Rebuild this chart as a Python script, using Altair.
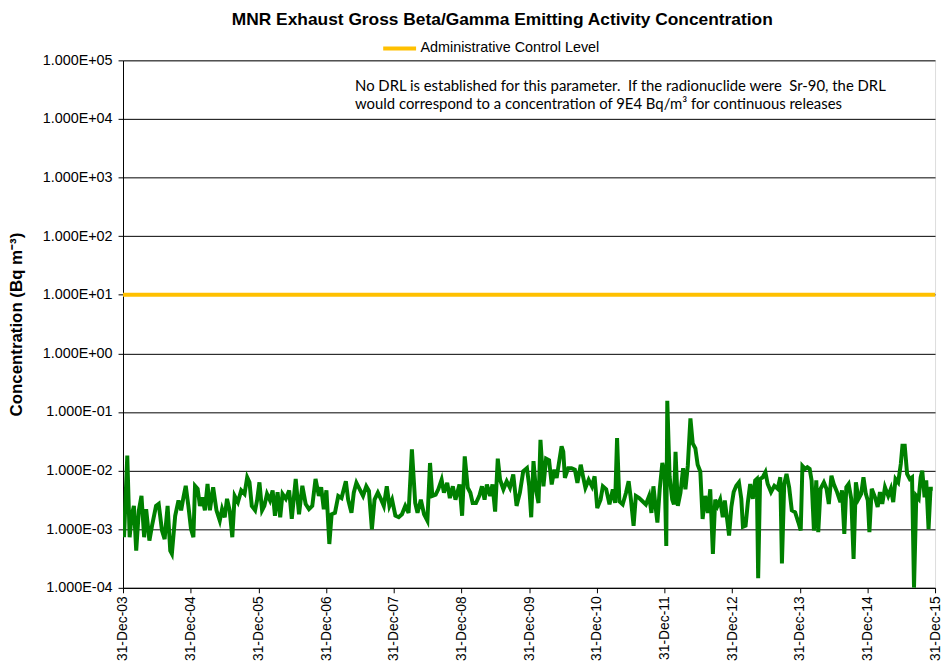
import altair as alt
import pandas as pd

# ---- data (decimal years, 2004.0 = 31-Dec-03) ----
t_2004_2006 = [2004.015, 2004.063, 2004.098, 2004.127, 2004.161, 2004.195, 2004.234, 2004.273,
               2004.312, 2004.342, 2004.390, 2004.429, 2004.488, 2004.527, 2004.576, 2004.615,
               2004.659, 2004.698, 2004.722, 2004.771, 2004.820, 2004.859, 2004.893, 2004.927,
               2004.966, 2005.005, 2005.040, 2005.064, 2005.103, 2005.137, 2005.171, 2005.210,
               2005.249, 2005.284, 2005.332, 2005.381, 2005.430, 2005.464, 2005.503, 2005.537,
               2005.576, 2005.615, 2005.650, 2005.698, 2005.747, 2005.796, 2005.835, 2005.869,
               2005.903, 2005.952, 2005.981, 2006.016, 2006.055, 2006.089, 2006.128, 2006.172,
               2006.211, 2006.245, 2006.284, 2006.323, 2006.357, 2006.406, 2006.455, 2006.494,
               2006.552, 2006.601, 2006.650, 2006.699, 2006.748, 2006.797, 2006.845, 2006.894,
               2006.928, 2006.967, 2007.006]
v_2004_2006 = [7.3e-4, 1.8e-2, 7.3e-4, 1.7e-3, 2.5e-3, 4.3e-4, 2.1e-3, 3.7e-3,
               7.3e-4, 2.2e-3, 6.4e-4, 1.15e-3, 2.5e-3, 2.7e-3, 9.5e-4, 6.8e-4,
               2.5e-3, 4.3e-4, 3.8e-4, 1.7e-3, 3.1e-3, 2.1e-3, 3.5e-3, 5.5e-3,
               2.5e-3, 1.0e-3, 7.3e-4, 5.5e-3, 4.9e-3, 2.5e-3, 3.5e-3, 2.1e-3,
               5.9e-3, 2.1e-3, 5.2e-3, 2.1e-3, 1.4e-3, 2.2e-3, 1.6e-3, 3.3e-3,
               2.1e-3, 7.3e-4, 3.7e-3, 2.9e-3, 4.6e-3, 4.0e-3, 7.7e-3, 6.3e-3,
               2.5e-3, 2.1e-3, 3.1e-3, 6.3e-3, 2.1e-3, 2.5e-3, 4.0e-3, 3.1e-3,
               4.6e-3, 1.7e-3, 4.3e-3, 1.6e-3, 4.0e-3, 3.3e-3, 4.6e-3, 1.5e-3,
               7.2e-3, 1.8e-3, 5.5e-3, 2.7e-3, 2.2e-3, 2.5e-3, 7.2e-3, 3.7e-3,
               5.2e-3, 2.2e-3, 4.6e-3]

t_2007_2009 = [2007.049, 2007.083, 2007.132, 2007.181, 2007.229, 2007.293, 2007.327, 2007.376,
               2007.410, 2007.449, 2007.498, 2007.547, 2007.595, 2007.634, 2007.678, 2007.717,
               2007.766, 2007.815, 2007.854, 2007.898, 2007.937, 2007.976, 2008.025, 2008.074,
               2008.122, 2008.171, 2008.220, 2008.269, 2008.318, 2008.352, 2008.401, 2008.449,
               2008.498, 2008.537, 2008.571, 2008.620, 2008.659, 2008.708, 2008.742, 2008.791,
               2008.830, 2008.874, 2008.913, 2008.972, 2009.011, 2009.050, 2009.094, 2009.133,
               2009.167, 2009.216, 2009.265, 2009.304, 2009.343, 2009.377, 2009.426, 2009.460,
               2009.499, 2009.538, 2009.572, 2009.621, 2009.670, 2009.718, 2009.767, 2009.816,
               2009.865, 2009.914]
v_2007_2009 = [5.6e-4, 1.8e-3, 1.9e-3, 3.7e-3, 3.4e-3, 6.6e-3, 3.2e-3, 1.9e-3,
               4.2e-3, 6.2e-3, 4.8e-3, 3.7e-3, 5.4e-3, 4.5e-3, 1.0e-3, 3.2e-3,
               4.2e-3, 3.2e-3, 2.5e-3, 5.4e-3, 2.5e-3, 3.2e-3, 1.7e-3, 1.6e-3,
               1.8e-3, 2.5e-3, 1.9e-3, 2.3e-2, 2.8e-3, 1.9e-3, 3.2e-3, 1.8e-3,
               1.4e-3, 1.35e-2, 3.7e-3, 3.9e-3, 4.8e-3, 7.0e-3, 4.2e-3, 6.2e-3,
               3.4e-3, 5.4e-3, 3.2e-3, 5.8e-3, 1.7e-3, 1.75e-2, 5.1e-3, 4.2e-3,
               2.8e-3, 2.8e-3, 3.7e-3, 5.4e-3, 3.2e-3, 5.8e-3, 3.7e-3, 5.8e-3,
               2.0e-3, 1.6e-2, 7.0e-3, 4.8e-3, 6.6e-3, 5.1e-3, 8.6e-3, 2.5e-3,
               4.2e-3, 9.7e-3]

t_2010_2012 = [2009.969, 2010.003, 2010.032, 2010.066, 2010.101, 2010.140, 2010.169, 2010.213,
               2010.252, 2010.296, 2010.335, 2010.374, 2010.408, 2010.442, 2010.481, 2010.506,
               2010.530, 2010.579, 2010.628, 2010.677, 2010.715, 2010.764, 2010.798, 2010.833,
               2010.881, 2010.930, 2010.969, 2011.008, 2011.057, 2011.091, 2011.140, 2011.189,
               2011.238, 2011.272, 2011.301, 2011.335, 2011.384, 2011.433, 2011.472, 2011.506,
               2011.545, 2011.579, 2011.628, 2011.677, 2011.726, 2011.775, 2011.809, 2011.838,
               2011.872, 2011.897, 2011.931, 2011.970, 2012.004, 2012.028, 2012.043, 2012.077,
               2012.116, 2012.141, 2012.165, 2012.199, 2012.238, 2012.277, 2012.311, 2012.346,
               2012.385, 2012.419, 2012.458, 2012.492, 2012.531, 2012.565, 2012.604, 2012.643,
               2012.678, 2012.717, 2012.751, 2012.785, 2012.824, 2012.863]
v_2010_2012 = [1.1e-2, 5.4e-3, 1.6e-3, 1.45e-2, 4.8e-3, 2.8e-3, 3.35e-2, 5.4e-3,
               1.6e-2, 1.5e-2, 5.8e-3, 1.04e-2, 7.5e-3, 1.35e-2, 2.6e-2, 2.1e-2,
               7.5e-3, 1.1e-2, 1.1e-2, 1.04e-2, 6.2e-3, 1.26e-2, 8.0e-3, 5.1e-3,
               7.0e-3, 5.4e-3, 8.0e-3, 2.3e-3, 3.2e-3, 5.4e-3, 4.8e-3, 2.65e-3,
               4.8e-3, 2.8e-3, 3.6e-2, 3.0e-3, 2.65e-3, 4.2e-3, 6.6e-3, 3.2e-3,
               1.14e-3, 3.7e-3, 3.4e-3, 3.0e-3, 2.65e-3, 3.7e-3, 1.9e-3, 5.4e-3,
               2.3e-3, 1.3e-3, 4.8e-3, 1.35e-2, 9.1e-3, 5.2e-4, 1.55e-1, 8.0e-3,
               3.2e-3, 2.65e-3, 2.1e-2, 2.5e-3, 4.2e-3, 1.1e-2, 4.8e-3, 1.2e-2,
               7.8e-2, 2.9e-2, 2.4e-2, 1.26e-2, 9.7e-3, 1.5e-3, 3.7e-3, 1.9e-3,
               4.8e-3, 3.8e-4, 3.2e-3, 2.5e-3, 3.2e-3, 1.6e-3]

t_2013_2015 = [2012.893, 2012.927, 2012.956, 2012.990, 2013.024, 2013.063, 2013.102, 2013.137,
               2013.161, 2013.200, 2013.234, 2013.268, 2013.307, 2013.342, 2013.366, 2013.386,
               2013.415, 2013.454, 2013.493, 2013.527, 2013.576, 2013.625, 2013.674, 2013.713,
               2013.737, 2013.771, 2013.805, 2013.844, 2013.883, 2013.932, 2013.981, 2014.015,
               2014.040, 2014.079, 2014.113, 2014.147, 2014.176, 2014.210, 2014.245, 2014.274,
               2014.308, 2014.357, 2014.396, 2014.430, 2014.469, 2014.503, 2014.552, 2014.601,
               2014.625, 2014.659, 2014.689, 2014.723, 2014.762, 2014.796, 2014.830, 2014.869,
               2014.908, 2014.942, 2014.977, 2015.006, 2015.030, 2015.064, 2015.113, 2015.152,
               2015.186, 2015.220, 2015.260, 2015.308, 2015.347, 2015.382, 2015.416, 2015.455,
               2015.494, 2015.518, 2015.552, 2015.587, 2015.626, 2015.660, 2015.689, 2015.723,
               2015.758, 2015.787, 2015.811, 2015.845, 2015.870, 2015.904, 2015.933, 2015.967]
v_2013_2015 = [3.1e-3, 1.5e-3, 7.8e-4, 2.4e-3, 4.3e-3, 5.5e-3, 6.3e-3, 3.3e-3,
               1.1e-3, 1.15e-3, 2.9e-3, 5.9e-3, 3.3e-3, 6.8e-3, 7.2e-3, 1.46e-4,
               7.2e-3, 7.7e-3, 9.4e-3, 5.9e-3, 4.3e-3, 5.5e-3, 4.9e-3, 7.7e-3,
               2.6e-4, 5.9e-3, 8.8e-3, 5.2e-3, 2.1e-3, 1.95e-3, 1.3e-3, 9.5e-4,
               1.2e-2, 1.07e-2, 1.14e-2, 1.07e-2, 6.8e-3, 9.5e-4, 6.8e-3, 8.9e-4,
               4.9e-3, 6.3e-3, 4.9e-3, 2.7e-3, 8.2e-3, 5.9e-3, 4.3e-3, 2.9e-3,
               4.6e-3, 8.3e-4, 5.2e-3, 5.9e-3, 3.3e-3, 3.1e-4, 6.3e-3, 3.3e-3,
               4.0e-3, 7.7e-3, 4.0e-3, 3.1e-3, 8.9e-4, 4.9e-3, 3.5e-3, 2.4e-3,
               4.3e-3, 2.7e-3, 5.2e-3, 3.7e-3, 4.9e-3, 2.9e-3, 7.2e-3, 6.3e-3,
               1.3e-2, 2.67e-2, 2.67e-2, 8.8e-3, 7.2e-3, 7.7e-3, 1.0e-4, 3.7e-3,
               3.3e-3, 7.7e-3, 1.0e-2, 3.5e-3, 6.8e-3, 1.0e-3, 4.9e-3, 4.9e-3]

acl_dates = ["2003-12-31", "2015-12-31"]
acl_values = [10.0, 10.0]
acl_label = "Administrative Control Level"

x_tick_dates = ["2003-12-31", "2004-12-31", "2005-12-31", "2006-12-31", "2007-12-31",
                "2008-12-31", "2009-12-31", "2010-12-31", "2011-12-31", "2012-12-31",
                "2013-12-31", "2014-12-31", "2015-12-31"]
y_tick_values = [1e-4, 1e-3, 1e-2, 1e-1, 1e0, 1e1, 1e2, 1e3, 1e4, 1e5]

title_text = "MNR Exhaust Gross Beta/Gamma Emitting Activity Concentration"
y_title = "Concentration (Bq m\u207b\u00b3)"
note_lines = ["No DRL is established for this parameter. \u00a0If the radionuclide were \u00a0Sr-90, the DRL",
              "would correspond to a concentration of 9E4 Bq/m\u00b3 for continuous releases"]

# ---- build tables ----
years = t_2004_2006 + t_2007_2009 + t_2010_2012 + t_2013_2015
vals = v_2004_2006 + v_2007_2009 + v_2010_2012 + v_2013_2015
base = pd.Timestamp("2003-12-31")
dates = [(base + pd.Timedelta(days=(t - 2004.0) * 365.25)).strftime("%Y-%m-%dT%H:%M:%SZ") for t in years]
df = pd.DataFrame({"date": dates, "conc": vals})
acl_df = pd.DataFrame({"date": acl_dates, "conc": acl_values, "series": [acl_label] * 2})

tick_ms = [int(pd.Timestamp(d).value // 1_000_000) for d in x_tick_dates]
x_domain = [tick_ms[0], tick_ms[-1]]

FONT = "Liberation Sans"

x_enc = alt.X("date:T",
              scale=alt.Scale(type="utc", domain=x_domain, nice=False),
              axis=alt.Axis(values=tick_ms,
                            labelExpr="utcFormat(datum.value, '%d-%b-%y')",
                            labelAngle=270, labelFont=FONT, labelFontSize=14,
                            labelColor="black", labelPadding=3, tickSize=5,
                            tickColor="black", domainColor="black", grid=False,
                            title=None, labelOverlap=False, labelFlush=False,
                            labelBound=False))

y_scale = alt.Scale(type="log", domain=[1e-4, 1e5], nice=False)
label_expr = ("'1.000E' + (round(log(datum.value)/LN10) < 0 ? '-' : '+') + "
              "(abs(round(log(datum.value)/LN10)) < 10 ? '0' : '') + "
              "abs(round(log(datum.value)/LN10))")
y_enc = alt.Y("conc:Q", scale=y_scale,
              axis=alt.Axis(values=y_tick_values, labelExpr=label_expr,
                            labelFont=FONT, labelFontSize=14.5, labelColor="black",
                            labelPadding=6, tickSize=5, tickColor="black",
                            domainColor="black", grid=True, gridColor="black",
                            gridWidth=1, title=y_title, titleFont=FONT,
                            titleFontSize=17, titleFontWeight="bold",
                            titleColor="black", titlePadding=17))

series = alt.Chart(df).mark_line(color="#008000", strokeWidth=4, clip=True).encode(
    x=x_enc, y=y_enc)

acl = alt.Chart(acl_df).mark_line(strokeWidth=4).encode(
    x="date:T", y="conc:Q",
    color=alt.Color("series:N",
                    scale=alt.Scale(domain=[acl_label], range=["#FFC000"]),
                    legend=alt.Legend(orient="none", legendX=260, legendY=-31,
                                      title=None, symbolType="stroke",
                                      symbolSize=1100, symbolStrokeWidth=4,
                                      labelFont=FONT, labelFontSize=14.5,
                                      labelColor="black", labelOffset=2,
                                      labelLimit=400, padding=0)))

note = alt.Chart(alt.Data(values=[{}])).mark_text(
    text=note_lines, align="left", baseline="top", font="Lato", fontSize=15,
    lineHeight=18, color="black").encode(x=alt.value(234), y=alt.value(19))

chart = alt.layer(series, acl, note).properties(
    width=819, height=532,
    title=alt.TitleParams(title_text, font=FONT, fontSize=17.5, fontWeight="bold",
                          color="black", anchor="middle", frame="group", dx=-27,
                          offset=10, dy=9),
    autosize=alt.AutoSizeParams(type="none"),
    padding={"left": 116, "top": 50, "right": 6, "bottom": 73},
).configure_view(stroke="#a0a0a0", strokeWidth=1).configure(background="white")

chart.save("out.html", embed_options={"renderer": "svg", "actions": False})
